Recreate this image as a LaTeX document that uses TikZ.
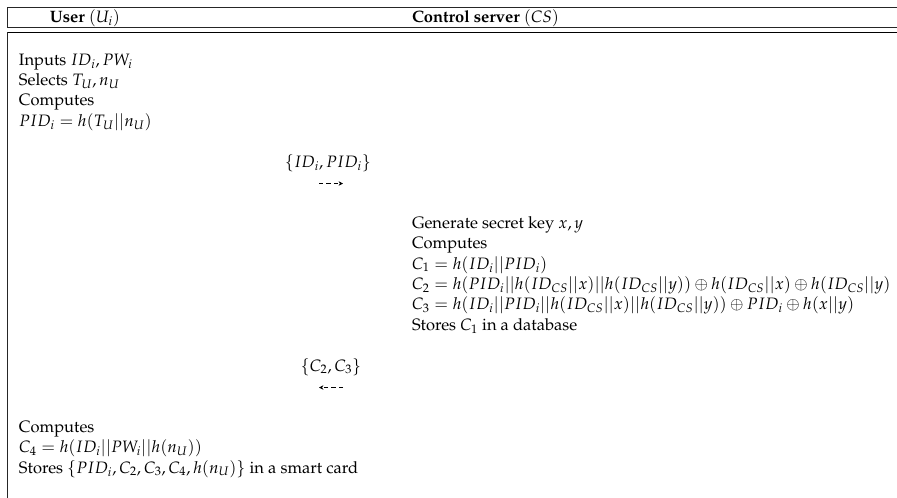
\documentclass[tikz,border=0pt]{standalone}
\usepackage[T1]{fontenc}
\usepackage{mathpazo}
\usetikzlibrary{arrows.meta}

\tikzset{
  rule/.style={line width=0.4pt, black!85},
  heavyrule/.style={line width=0.6pt, black},
  txt/.style={anchor=base west, inner sep=0pt, outer sep=0pt, font=\fontsize{12}{14.4}\selectfont},
  msg/.style={anchor=base, inner sep=0pt, outer sep=0pt, font=\fontsize{12}{14.4}\selectfont},
  msgarrow/.style={line width=0.45pt, dash pattern=on 3pt off 2.4pt,
                   -{Stealth[length=3.2pt,width=3.2pt]}},
}

\begin{document}
\begin{tikzpicture}[x=0.7273pt, y=-0.7273pt]
  \useasboundingbox (0,0) rectangle (897,497);

  % table frame
  \draw[rule] (7.5,7) -- (900,7);
  \draw[rule] (7.5,7) -- (7.5,27.5);
  \draw[rule] (7.5,27.5) -- (900,27.5);
  \draw[heavyrule] (7.5,32) -- (900,32);
  \draw[rule] (7.5,32) -- (7.5,500);

  % header row
  \node[txt] (hu) at (50,22) {\textbf{User} $(U_i)$};
  \node[txt] (hs) at (412,22) {\textbf{Control server} $(CS)$};

  % user side: registration request
  \node[txt] (u1) at (19,65)    {Inputs $ID_i, PW_i$};
  \node[txt] (u2) at (19,85.4)  {Selects $T_U, n_U$};
  \node[txt] (u3) at (19,105.8) {Computes};
  \node[txt] (u4) at (19,126.2) {$PID_i = h(T_U||n_U)$};

  % first message
  \node[msg] (m1) at (328,167) {$\{ID_i, PID_i\}$};
  \coordinate (m1a) at (319,183.5);
  \coordinate (m1b) at (343,183.5);
  \draw[msgarrow] (m1a) -- (m1b);

  % server side
  \node[txt] (s1) at (412,228.2) {Generate secret key $x, y$};
  \node[txt] (s2) at (412,248.6) {Computes};
  \node[txt] (s3) at (412,269)   {$C_1 = h(ID_i||PID_i)$};
  \node[txt] (s4) at (412,289.4) {$C_2 = h(PID_i||h(ID_{CS}||x)||h(ID_{CS}||y)) \oplus h(ID_{CS}||x) \oplus h(ID_{CS}||y)$};
  \node[txt] (s5) at (412,309.8) {$C_3 = h(ID_i||PID_i||h(ID_{CS}||x)||h(ID_{CS}||y)) \oplus PID_i \oplus h(x||y)$};
  \node[txt] (s6) at (412,330.2) {Stores $C_1$ in a database};

  % second message
  \node[msg] (m2) at (331,371) {$\{C_2, C_3\}$};
  \coordinate (m2a) at (343,387.5);
  \coordinate (m2b) at (319,387.5);
  \draw[msgarrow] (m2a) -- (m2b);

  % user side: smart card
  \node[txt] (c1) at (19,432.2) {Computes};
  \node[txt] (c2) at (19,452.6) {$C_4 = h(ID_i||PW_i||h(n_U))$};
  \node[txt] (c3) at (19,473)   {Stores $\{PID_i, C_2, C_3, C_4, h(n_U)\}$ in a smart card};
\end{tikzpicture}
\end{document}
